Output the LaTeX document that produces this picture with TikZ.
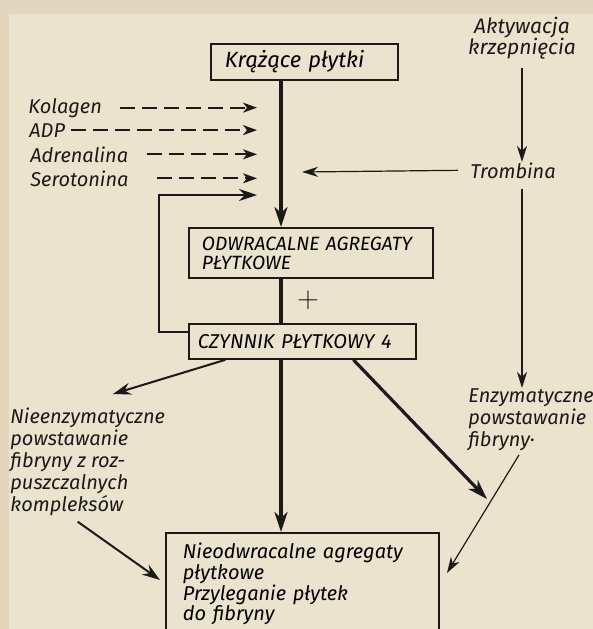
\documentclass[tikz,border=0pt]{standalone}
\usepackage{fontspec}
\setmainfont{Fira Sans}
\usetikzlibrary{arrows.meta,positioning}
\definecolor{paper}{RGB}{236,227,207}
\definecolor{paperedge}{RGB}{228,214,188}
\definecolor{ink}{RGB}{28,26,24}
\tikzset{
  box/.style   = { draw=ink, line width=0.9pt, inner sep=0pt, anchor=north west,
                   align=left, font=\itshape\fontsize{10}{10.4}\selectfont },
  txt/.style   = { inner sep=0pt, align=left, text=ink,
                   font=\itshape\fontsize{10}{11}\selectfont },
  flow/.style  = { draw=ink, -{Stealth[length=10pt,width=6.5pt,inset=3pt]}, line width=1.6pt },
  side/.style  = { draw=ink, -{Stealth[length=9pt,width=6pt,inset=3pt]}, line width=1pt },
  agent/.style = { draw=ink, -{Stealth[length=7pt,width=5pt,inset=2pt]}, line width=0.9pt,
                   dash pattern=on 7.5pt off 3.5pt },
  weak/.style  = { draw=ink, -{Stealth[length=8pt,width=5pt,inset=2.5pt]}, line width=0.6pt },
}
\begin{document}
\begin{tikzpicture}[x=0.5pt,y=-0.5pt]
  \useasboundingbox (0,0) rectangle (593,629);
  % Paper
  \fill[paper] (0,0) rectangle (593,629);
  \fill[paperedge] (0,0) rectangle (593,14);
  \fill[paperedge] (0,0) rectangle (9,629);

  % Draw the boxes
  \node[box, text width=79.5pt, inner xsep=7pt, minimum height=18pt, font=\itshape\fontsize{11}{11}\selectfont] (krazace) at (210,43) {Krążące płytki};
  \node[box, text width=109pt, inner xsep=6.5pt, minimum height=25pt, font=\itshape\fontsize{9.6}{9.5}\selectfont] (odwr) at (188,227) {\mbox{ODWRACALNE AGREGATY}\\PŁYTKOWE};
  \node[box, text width=104.5pt, inner xsep=4.5pt, minimum height=17.5pt] (czynnik) at (188,323) {CZYNNIK PŁYTKOWY 4};
  \node[box, text width=119.5pt, inner xsep=8.5pt, inner ysep=5pt] (final) at (165,532) {Nieodwracalne agregaty\\płytkowe\\Przyleganie płytek\\do fibryny};
  \node[inner sep=0pt, text=ink, font=\fontsize{14}{14}\selectfont] (plus) at (308,300) {$+$};

  % Draw labels
  \node[txt, anchor=base west] (kolagen)    at (28,113) {Kolagen};
  \node[txt, anchor=base west] (adp)        at (29,137) {ADP};
  \node[txt, anchor=base west] (adrenalina) at (30,162) {Adrenalina};
  \node[txt, anchor=base west] (serotonina) at (30,186) {Serotonina};
  \node[txt, anchor=base west] (trombina)   at (470,178) {Trombina};
  \node[txt, align=center, anchor=north, font=\itshape\fontsize{10.5}{10.5}\selectfont] (aktywacja) at (522,17) {Aktywacja\\krzepnięcia};
  \node[txt, anchor=north west] (enzym)  at (468,388) {Enzymatyczne\\powstawanie\\fibryny·};
  \node[txt, anchor=north west] (nieenz) at (10,407) {Nieenzymatyczne\\powstawanie\\fibryny z roz-\\puszczalnych\\kompleksów};

  \coordinate (axis)  at (281,0);
  \coordinate (inlet) at (257,0);
  \coordinate (loop)  at (257,195);
  \coordinate (tromb tip)  at (302,172);
  \coordinate (meet)       at (487,499);
  \coordinate (nieenz tip) at (113,394);
  \coordinate (final tip)  at (447,573);
  \coordinate (final left) at (160,580);

  % Main path
  \draw[flow] (krazace.south -| axis) -- (odwr.north -| axis);
  \draw[flow, -] (odwr.south -| axis) -- (czynnik.north -| axis);
  \draw[flow] (czynnik.south -| axis) -- (final.north -| axis);
  \draw[flow] ([xshift=25.5pt]czynnik.south) -- (meet);
  \draw[side] ([xshift=-38.5pt]czynnik.south) -- (nieenz tip);
  \draw[side] ([yshift=4.5pt]czynnik.west) -- ++(-29,0) |- (loop);

  % Agents
  \draw[agent] ([xshift=9pt]kolagen.east)    -- (kolagen.east -| inlet);
  \draw[agent] ([xshift=3pt]adp.east)        -- (adp.east -| inlet);
  \draw[agent] ([xshift=9pt]adrenalina.east) -- (adrenalina.east -| inlet);
  \draw[agent] ([xshift=14pt]serotonina.east) -- (serotonina.east -| inlet);

  % Coagulation side
  \draw[weak] ([yshift=-4pt]aktywacja.south) -- (aktywacja.south |- trombina.north);
  \draw[weak] ([xshift=-6pt]trombina.west) -- (tromb tip);
  \draw[weak] ([yshift=-5pt]aktywacja.south |- trombina.south) -- (aktywacja.south |- enzym.north);
  \draw[weak] ([xshift=-6pt,yshift=-2pt]enzym.south) -- (final tip);
  \draw[side] ([xshift=-5pt,yshift=-3pt]nieenz.south) -- (final left);
\end{tikzpicture}
\end{document}
